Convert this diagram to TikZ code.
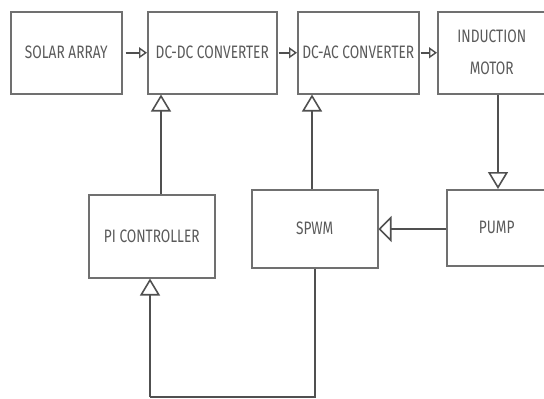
\documentclass[tikz,border=0pt]{standalone}
\usepackage{fontspec}
\setmainfont{Fira Sans}[FakeStretch=0.76]
\usetikzlibrary{arrows.meta}
\definecolor{ln}{HTML}{505050}
\definecolor{bx}{HTML}{707070}
\definecolor{tx}{HTML}{5a5a5a}
\tikzset{
  blk/.style={draw=bx, line width=1.5pt, text=tx, font=\fontsize{18}{20}\selectfont, align=center, inner sep=0pt, anchor=north west},
  con/.style={draw=ln, line width=1.7pt},
  small/.style={con, -{Triangle[open, length=8pt, width=11pt, line width=1.4pt]}},
  big/.style={con, -{Triangle[open, length=17pt, width=20pt, line width=1.6pt]}},
  side/.style={con, -{Triangle[open, length=13pt, width=26pt, line width=1.6pt]}},
}
\begin{document}
\begin{tikzpicture}[x=1pt,y=-1pt]
\useasboundingbox (0,0) rectangle (544,399);
\node[blk, minimum width=111pt, minimum height=82pt] (solar) at (10,11) {SOLAR ARRAY};
\node[blk, minimum width=129pt, minimum height=82pt] (dcdc) at (147,11) {DC-DC CONVERTER};
\node[blk, minimum width=121pt, minimum height=82pt] (dcac) at (297,11) {DC-AC CONVERTER};
\node[blk, minimum width=108pt, minimum height=82pt] (motor) at (437,11) {INDUCTION\\[12pt]MOTOR};
\node[blk, minimum width=126pt, minimum height=83pt] (pi) at (88,194) {PI CONTROLLER};
\node[blk, minimum width=126pt, minimum height=78pt] (spwm) at (251,189) {SPWM};
\node[blk, minimum width=100pt, minimum height=76pt] (pump) at (446,189) {PUMP};
\coordinate (br) at (315,397);
\coordinate (bl) at (150,397);
\draw[small] ([xshift=3pt]solar.east) -- (dcdc.west);
\draw[small] ([xshift=1pt]dcdc.east) -- (dcac.west);
\draw[small] ([xshift=1pt]dcac.east) -- (motor.west);
\draw[big] (pi.north -| 161,0) -- (dcdc.south -| 161,0);
\draw[big] (spwm.north -| 312,0) -- (dcac.south -| 312,0);
\draw[big] (motor.south -| 498,0) -- (pump.north -| 498,0);
\draw[side] (pump.west |- 0,229) -- (spwm.east |- 0,229);
\draw[con] (spwm.south -| br) -- (br) -- (bl);
\draw[big] (bl) -- (pi.south -| bl);
\end{tikzpicture}
\end{document}
